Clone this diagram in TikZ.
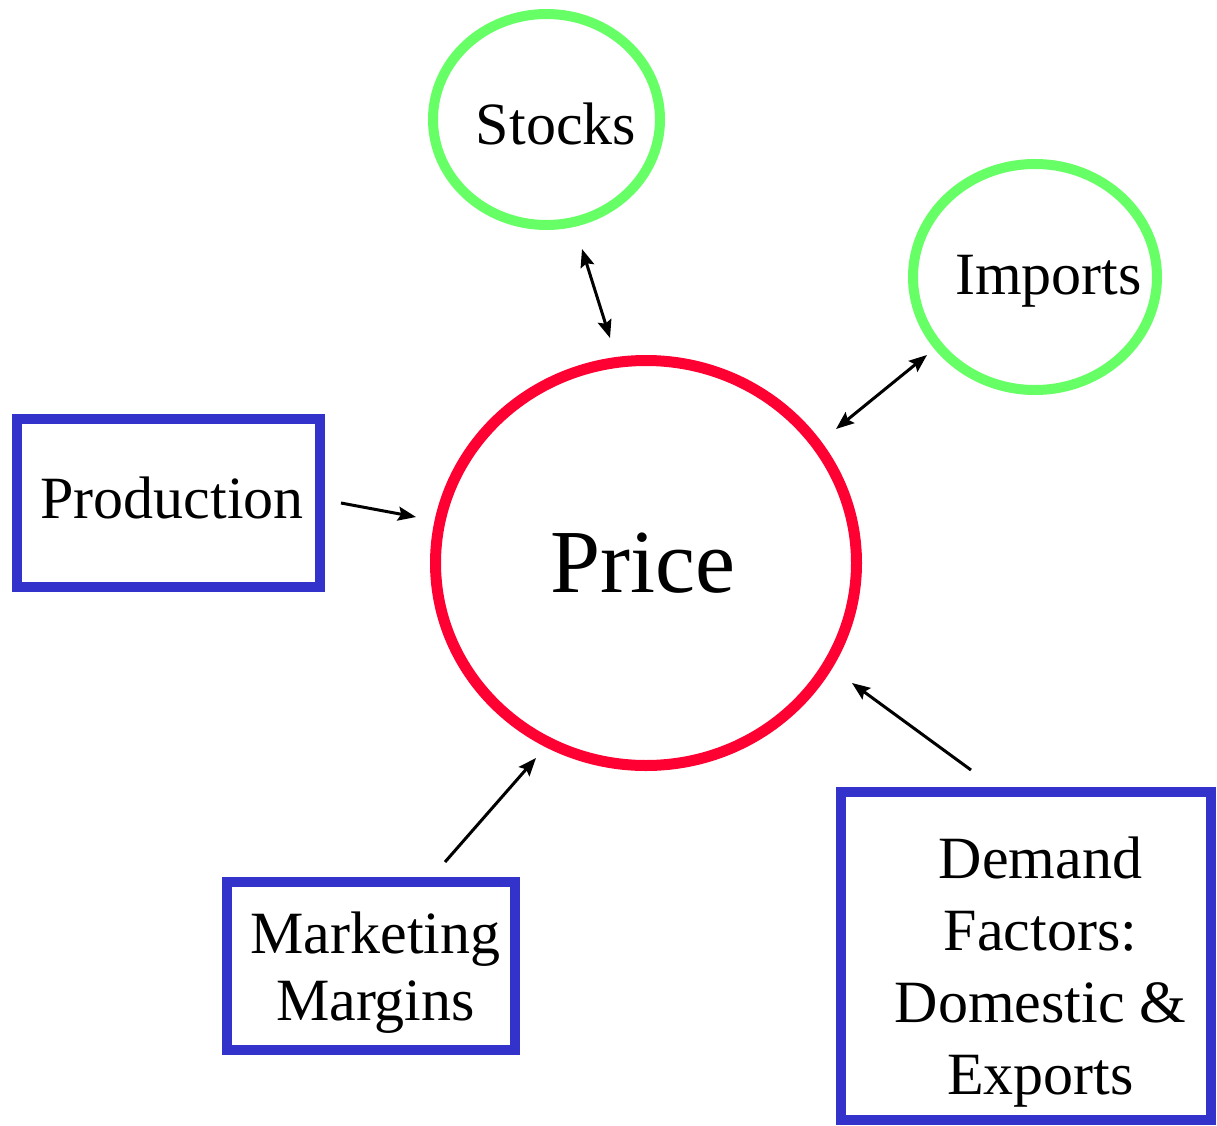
\documentclass[tikz,border=0pt]{standalone}
\usepackage{fontspec}
\setmainfont{Liberation Serif}
\usetikzlibrary{shapes.geometric,arrows.meta}
\definecolor{ringgreen}{HTML}{66FF66}
\definecolor{ringred}{HTML}{FF0033}
\definecolor{boxblue}{HTML}{3333CC}
\begin{document}
\begin{tikzpicture}[x=1pt,y=-1pt,
  oval/.style={ellipse, draw=ringgreen, line width=10pt, inner sep=0pt},
  core/.style={ellipse, draw=ringred, line width=11pt, inner sep=0pt},
  factor/.style={rectangle, draw=boxblue, line width=10pt, inner sep=0pt},
  lbl/.style={inner sep=0pt, anchor=base, align=center, font=\fontsize{60}{67}\selectfont},
  biglbl/.style={inner sep=0pt, anchor=base, font=\fontsize{90}{100}\selectfont},
  link/.style={line width=3pt, -{Stealth[length=18pt,width=14pt,inset=3pt]}},
  twoway/.style={line width=3pt, {Stealth[length=18pt,width=14pt,inset=3pt]}-{Stealth[length=18pt,width=14pt,inset=3pt]}}
]
\useasboundingbox (0,0) rectangle (1217,1126);
\fill[white] (0,0) rectangle (1217,1126);

% shapes
\node[core, minimum width=421pt, minimum height=405pt] (price) at (646,563) {};
\node[oval, minimum width=227pt, minimum height=211pt] (stocks) at (546.5,119.5) {};
\node[oval, minimum width=244pt, minimum height=226pt] (imports) at (1035,277) {};
\node[factor, minimum width=303pt, minimum height=168pt] (production) at (168.5,503) {};
\node[factor, minimum width=288pt, minimum height=168pt] (marketing) at (371,966) {};
\node[factor, minimum width=370pt, minimum height=328pt] (demand) at (1025.5,956) {};

% labels
\node[biglbl] (priceT) at (642.5,592) {Price};
\node[lbl] (stocksT) at (556,145) {Stocks};
\node[lbl] (importsT) at (1048.5,294) {Imports};
\node[lbl] (productionT) at (172,518) {Production};
\node[lbl] (marketingT) at (375.5,1020) {Marketing\\Margins};
\node[lbl, font=\fontsize{60}{72}\selectfont] (demandT) at (1040.5,1094) {Demand\\Factors:\\Domestic \&\\Exports};

% connector end points
\coordinate (stocksEnd) at (582,249);
\coordinate (stocksPrice) at (610,338);
\coordinate (importsEnd) at (927,355);
\coordinate (importsPrice) at (836,429);
\coordinate (productionEnd) at (341,503);
\coordinate (productionPrice) at (416,517);
\coordinate (marketingEnd) at (445,862);
\coordinate (marketingPrice) at (536,758);
\coordinate (demandEnd) at (971,770);
\coordinate (demandPrice) at (852,683);

% connectors
\draw[twoway] (stocksEnd) -- (stocksPrice);
\draw[twoway] (importsEnd) -- (importsPrice);
\draw[link] (productionEnd) -- (productionPrice);
\draw[link] (marketingEnd) -- (marketingPrice);
\draw[link] (demandEnd) -- (demandPrice);
\end{tikzpicture}
\end{document}
